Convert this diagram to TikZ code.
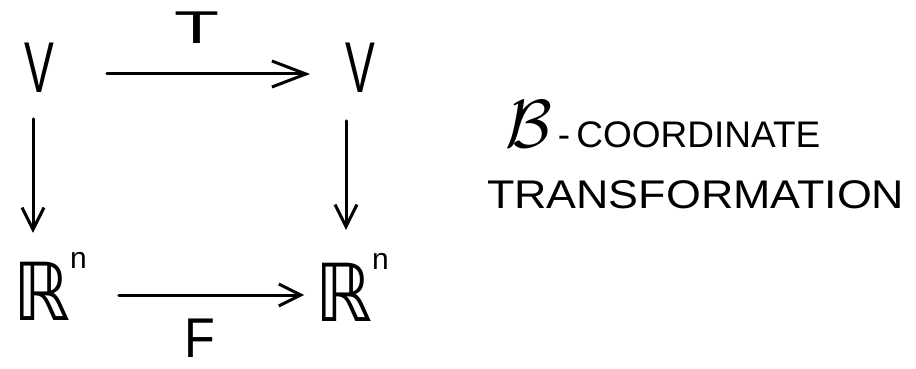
\RequirePackage{fix-cm}
\documentclass[tikz,border=0pt]{standalone}
\usepackage{fontspec}
\usepackage{graphicx}
\usetikzlibrary{arrows.meta}
\setmainfont{Liberation Sans}
\newfontfamily\symfont{DejaVu Sans}
\newcommand{\fsz}[1]{\fontsize{#1}{#1}\selectfont}

\begin{document}
\begin{tikzpicture}[x=1pt,y=-1pt,
  lab/.style={inner sep=0pt, outer sep=0pt},
  arr/.style={line width=3pt, line cap=round,
    -{Straight Barb[length=22pt,width=22pt,line width=3pt]}},
  longtip/.style={-{Straight Barb[length=34pt,width=26pt,line width=3pt]}},
]
\fill[white] (0,0) rectangle (916,369);
\useasboundingbox (0,0) rectangle (916,369);

% the four spaces of the square
\node[lab, font=\fsz{72}] (V1) at (39,68) {\scalebox{0.62}[1]{V}};
\node[lab, font=\fsz{72}] (V2) at (360,68) {\scalebox{0.62}[1]{V}};
\node[lab, font=\fsz{80}] (R1) at (50,286)
  {{\symfont\scalebox{0.9}[1]{ℝ}}\raisebox{52pt}{\fsz{30}n}};
\node[lab, font=\fsz{80}] (R2) at (352,287)
  {{\symfont\scalebox{0.9}[1]{ℝ}}\raisebox{52pt}{\fsz{30}n}};

% map labels
\node[lab, font=\fsz{46}] (T) at (197,28) {\scalebox{1.6}[1]{T}};
\node[lab, font=\fsz{56}] (F) at (200,338) {\scalebox{0.9}[1]{F}};

% maps
\draw[arr, longtip, shorten <=53pt, shorten >=35pt]
  ([yshift=-6pt]V1.east) -- ([yshift=-6pt]V2.west);
\draw[arr, shorten <=26pt, shorten >=19pt]
  ([xshift=-6pt]V1.south) -- ([xshift=-17pt]R1.north);
\draw[arr, shorten <=28pt, shorten >=23pt]
  ([xshift=-14pt]V2.south) -- ([xshift=-6pt]R2.north);
\draw[arr, shorten <=32pt, shorten >=11pt]
  ([yshift=-9pt]R1.east) -- ([yshift=-8pt]R2.west);

% caption
\node[lab, anchor=base west] (cap1) at (505,147)
  {\fsz{68}$\mathcal{B}$\fsz{37}\,-\,COORDINATE};
\node[lab, anchor=base west] (cap2) at (487,208)
  {\fsz{40}\scalebox{1.12}[1]{TRANSFORMATION}};
\end{tikzpicture}
\end{document}
